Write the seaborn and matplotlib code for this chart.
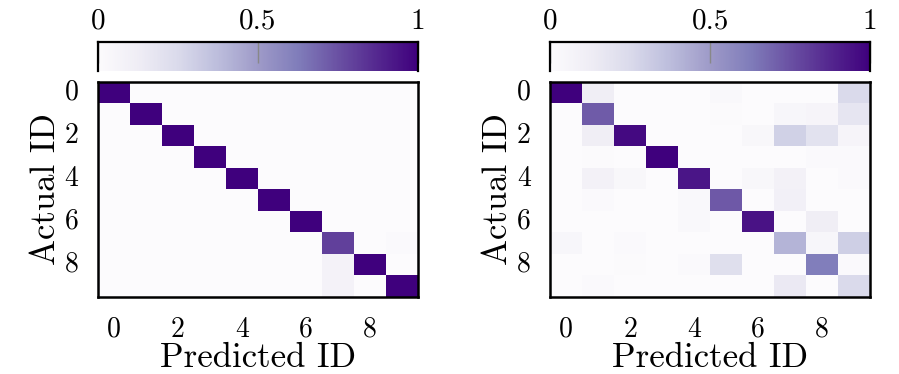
import numpy as np
import pandas as pd
import matplotlib
matplotlib.use("Agg")
import matplotlib.pyplot as plt
import seaborn as sns

ids = list(range(10))
tick_labels = ["0", "2", "4", "6", "8"]

left_matrix = [
    [1.00, 0, 0, 0, 0, 0, 0, 0, 0, 0],
    [0, 1.00, 0, 0, 0, 0, 0, 0, 0, 0],
    [0, 0, 1.00, 0, 0, 0, 0, 0, 0, 0],
    [0, 0, 0, 1.00, 0, 0, 0, 0, 0, 0],
    [0, 0, 0, 0, 1.00, 0, 0, 0, 0, 0],
    [0, 0, 0, 0, 0, 1.00, 0, 0, 0, 0],
    [0, 0, 0, 0, 0, 0, 1.00, 0, 0, 0],
    [0, 0, 0, 0, 0, 0, 0, 0.80, 0, 0.02],
    [0, 0, 0, 0, 0, 0, 0, 0.08, 1.00, 0],
    [0, 0, 0, 0, 0, 0, 0, 0.08, 0, 1.00],
]

right_matrix = [
    [1.00, 0.12, 0, 0, 0, 0.03, 0, 0, 0, 0.25],
    [0, 0.72, 0, 0, 0, 0.01, 0, 0.05, 0.06, 0.18],
    [0, 0.12, 0.97, 0, 0, 0, 0.04, 0.29, 0.20, 0.06],
    [0, 0.01, 0, 1.00, 0, 0, 0, 0, 0.02, 0.02],
    [0, 0.09, 0.04, 0, 0.93, 0, 0.04, 0.09, 0, 0.02],
    [0, 0.02, 0, 0, 0.03, 0.73, 0, 0.10, 0, 0],
    [0, 0, 0, 0, 0.03, 0, 0.94, 0, 0.12, 0],
    [0.05, 0, 0.02, 0, 0, 0, 0, 0.41, 0.05, 0.30],
    [0, 0, 0.01, 0, 0.02, 0.22, 0, 0, 0.62, 0.02],
    [0, 0.02, 0, 0, 0, 0, 0, 0.15, 0, 0.25],
]

cbar_ticks = [0, 0.5, 1]
cbar_labels = ["0", "0.5", "1"]

plt.rcParams["font.family"] = "serif"
plt.rcParams["font.serif"] = ["cmr10", "DejaVu Serif"]
plt.rcParams["axes.formatter.use_mathtext"] = True

fig = plt.figure(figsize=(8.99, 3.74), dpi=100)

positions = [
    ([0.109, 0.206, 0.356, 0.575], [0.109, 0.810, 0.356, 0.078]),
    ([0.612, 0.206, 0.356, 0.575], [0.612, 0.810, 0.356, 0.078]),
]

for mat, (hpos, cpos) in zip([left_matrix, right_matrix], positions):
    ax = fig.add_axes(hpos)
    cax = fig.add_axes(cpos)
    df = pd.DataFrame(mat, index=ids, columns=ids)
    sns.heatmap(df, ax=ax, cmap="Purples", vmin=0, vmax=1, cbar_ax=cax,
                cbar_kws={"orientation": "horizontal", "ticks": cbar_ticks})
    ax.set_xticks([i + 0.5 for i in range(0, 10, 2)])
    ax.set_xticklabels(tick_labels, rotation=0, fontsize=20)
    ax.set_yticks([i + 0.5 for i in range(0, 10, 2)])
    ax.set_yticklabels(tick_labels, rotation=0, fontsize=20)
    ax.tick_params(axis="x", length=0, pad=14)
    ax.tick_params(axis="y", length=0, pad=14)
    ax.set_xlabel("Predicted ID", fontsize=25, labelpad=0)
    ax.set_ylabel("Actual ID", fontsize=25, labelpad=2)
    for s in ax.spines.values():
        s.set_visible(True)
        s.set_linewidth(1.8)
        s.set_color("black")
    cbar = ax.collections[0].colorbar
    cbar.outline.set_visible(False)
    cax.xaxis.set_ticks_position("top")
    cax.set_xticks(cbar_ticks)
    cax.set_xticklabels(cbar_labels, fontsize=21)
    cax.tick_params(axis="x", direction="in", length=15, color="#888888", width=1.0, pad=5)
    for name in ["top", "left", "right"]:
        cax.spines[name].set_visible(True)
        cax.spines[name].set_linewidth(1.6)
        cax.spines[name].set_color("black")

fig.savefig("out.png", dpi=100)
